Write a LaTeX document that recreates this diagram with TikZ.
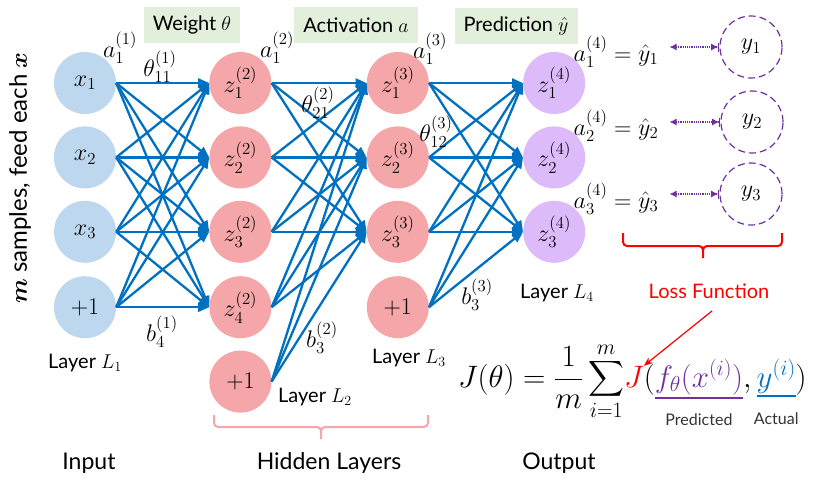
\RequirePackage{fix-cm}
\documentclass[tikz,border=0pt]{standalone}
\usepackage{amsmath,bm}
\usepackage{fontspec}
\setmainfont{Lato}
\usetikzlibrary{positioning,arrows.meta,calc}

\definecolor{inblue}{HTML}{BDD7EE}
\definecolor{hidpink}{HTML}{F4A6A8}
\definecolor{outlav}{HTML}{DDBBFB}
\definecolor{tagbg}{HTML}{E2EFDA}
\definecolor{wblue}{HTML}{0070C0}
\definecolor{predc}{HTML}{7030A0}

\begin{document}
\begin{tikzpicture}[x=1pt,y=-1pt,
  font=\fontsize{20}{24}\selectfont,
  neuron/.style={circle,minimum size=62pt,inner sep=0pt,font=\fontsize{24}{28}\selectfont},
  inp/.style={neuron,fill=inblue},
  hid/.style={neuron,fill=hidpink},
  outn/.style={neuron,fill=outlav},
  truth/.style={neuron,draw=predc,dash pattern=on 7pt off 4pt,line width=1.2pt},
  tag/.style={fill=tagbg,minimum height=36pt,inner xsep=9pt,font=\fontsize{20}{24}\selectfont},
  wt/.style={-{Triangle[length=11pt,width=9pt]},line width=2.3pt,wblue},
  cmp/.style={{Latex[length=7pt,width=7pt]}-{Latex[length=7pt,width=7pt]Bar[width=9pt]},densely dotted,line width=1.2pt,predc},
  mlbl/.style={inner sep=2pt,font=\fontsize{24}{28}\selectfont},
  lbl/.style={font=\fontsize{20}{24}\selectfont},
  sec/.style={font=\fontsize{23}{27}\selectfont},
  fml/.style={inner sep=0pt,outer sep=0pt,anchor=base west,font=\fontsize{31}{36}\selectfont},
  brc/.style={line width=2pt,rounded corners=4pt},
]
\useasboundingbox (0,0) rectangle (821,480);

% input layer
\node[inp] (x1) at (85,83) {$x_1$};
\node[inp,below=12pt of x1] (x2) {$x_2$};
\node[inp,below=12pt of x2] (x3) {$x_3$};
\node[inp,below=13pt of x3] (xb) {$+1$};
% hidden layers
\node[hid,right=93pt of x1] (z21) {$z_1^{(2)}$};
\node[hid,below=12pt of z21] (z22) {$z_2^{(2)}$};
\node[hid,below=12pt of z22] (z23) {$z_3^{(2)}$};
\node[hid,below=13pt of z23] (z24) {$z_4^{(2)}$};
\node[hid,below=12pt of z24] (z2b) {$+1$};
\node[hid,right=95pt of z21] (z31) {$z_1^{(3)}$};
\node[hid,below=12pt of z31] (z32) {$z_2^{(3)}$};
\node[hid,below=12pt of z32] (z33) {$z_3^{(3)}$};
\node[hid,below=13pt of z33] (z3b) {$+1$};
% output layer
\node[outn,right=94pt of z31] (z41) {$z_1^{(4)}$};
\node[outn,below=12pt of z41] (z42) {$z_2^{(4)}$};
\node[outn,below=12pt of z42] (z43) {$z_3^{(4)}$};

\foreach \s in {x1,x2,x3,xb}
  \foreach \t in {z21,z22,z23,z24}
    \draw[wt] (\s.east) -- (\t.west);
\foreach \s in {z21,z22,z23,z24,z2b}
  \foreach \t in {z31,z32,z33}
    \draw[wt] (\s.east) -- (\t.west);
\foreach \s in {z31,z32,z33,z3b}
  \foreach \t in {z41,z42,z43}
    \draw[wt] (\s.east) -- (\t.west);

% targets
\node[mlbl] (yh1) at (616,52) {$a_1^{(4)}=\hat{y}_1$};
\node[mlbl] (yh2) at (616,126) {$a_2^{(4)}=\hat{y}_2$};
\node[mlbl] (yh3) at (616,199) {$a_3^{(4)}=\hat{y}_3$};
\node[truth] (y1) at (751,47) {$y_1$};
\node[truth] (y2) at (752,122) {$y_2$};
\node[truth] (y3) at (751,194) {$y_3$};
\foreach \i in {1,2,3}
  \draw[cmp,shorten <=9pt] (yh\i.east |- y\i) -- (y\i.west);

% tags
\node[tag] (wtag) at (192,25) {Weight $\theta$};
\node[tag] (atag) at (356,25) {Activation $a$};
\node[tag] (ptag) at (516,26) {Prediction $\hat{y}$};

% weights and activations
\node[mlbl] (a11) at (120,48) {$a_1^{(1)}$};
\node[mlbl] (t11) at (160,67) {$\theta_{11}^{(1)}$};
\node[mlbl] (a12) at (277,48) {$a_1^{(2)}$};
\node[mlbl] (t21) at (318,103) {$\theta_{21}^{(2)}$};
\node[mlbl] (a13) at (430,49) {$a_1^{(3)}$};
\node[mlbl] (t12) at (436,132) {$\theta_{12}^{(3)}$};
\node[mlbl] (b41) at (162,332) {$b_4^{(1)}$};
\node[mlbl] (b32) at (322,338) {$b_3^{(2)}$};
\node[mlbl] (b33) at (477,295) {$b_3^{(3)}$};

% layer names
\node[lbl] (ly1) at (85,363) {Layer $L_1$};
\node[lbl] (ly2) at (315,397) {Layer $L_2$};
\node[lbl] (ly3) at (409,358) {Layer $L_3$};
\node[lbl] (ly4) at (557,293) {Layer $L_4$};
\node[sec] (sin) at (89,463) {Input};
\node[sec] (shid) at (329,463) {Hidden Layers};
\node[sec] (sout) at (559,463) {Output};
\node[rotate=90,font=\fontsize{24}{28}\selectfont] (feed) at (20,178) {$\bm{m}$ samples, feed each $\bm{x}$};

\draw[brc,hidpink] (214,415) |- (321,427) -- (321,439) (428,415) |- (321,427) -- (321,439);
\draw[brc,red] (623,233) |- (703,246) -- (703,258) (782,233) |- (703,246) -- (703,258);
\node[lbl,red] (loss) at (709,291) {Loss Function};

% cost
\node[fml] (jsum) at (458,387) {$J(\theta)=\dfrac{1}{m}\displaystyle\sum_{i=1}^{m}$};
\node[fml,red] (jred) at (jsum.base east) {$J$};
\node[fml] (lpar) at (jred.base east) {$($};
\node[fml,predc] (fx) at (lpar.base east) {$f_\theta(x^{(i)})$};
\node[fml] (comma) at (fx.base east) {$,\,$};
\node[fml,wblue] (yi) at (comma.base east) {$y^{(i)}$};
\node[fml] (rpar) at (yi.base east) {$)$};
\draw[predc,line width=2pt] ([yshift=-3pt]fx.south west) -- ([yshift=-3pt]fx.south east)
  node[midway,below=12pt,font=\fontsize{16}{19}\selectfont,black!80] (pred) {Predicted};
\draw[wblue,line width=2pt] ([yshift=-3pt]yi.south west) -- ([yshift=-3pt]yi.south east)
  node[midway,below=12pt,font=\fontsize{16}{19}\selectfont,black!80] (act) {Actual};
\draw[red,-{Stealth[length=9pt,width=7pt]},line width=1.2pt] ([shift={(3,9)}]loss.south) -- (jred.north east);
\end{tikzpicture}
\end{document}
